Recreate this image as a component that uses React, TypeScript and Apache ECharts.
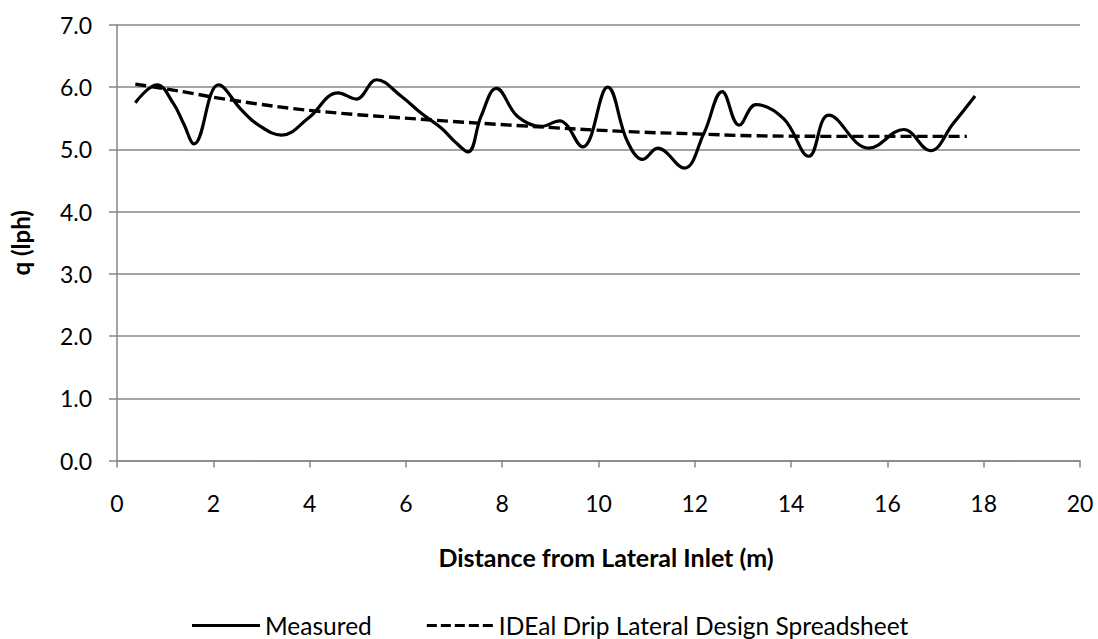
import React, { useEffect, useRef } from "react";
import * as echarts from "echarts";

const measuredX = [0.38, 0.83, 1.17, 1.38, 1.6, 2.11, 2.59, 2.94, 3.42, 3.97, 4.59, 4.97, 5.39, 5.91, 6.32, 6.74, 7.01, 7.29, 7.56, 7.88, 8.32, 8.81, 9.19, 9.67, 10.19, 10.6, 10.92, 11.23, 11.78, 12.19, 12.57, 12.92, 13.27, 13.85, 14.37, 14.78, 15.61, 16.34, 16.89, 17.37, 17.82];
const measuredY = [5.75, 6.04, 5.74, 5.42, 5.09, 6.04, 5.63, 5.39, 5.23, 5.5, 5.91, 5.81, 6.12, 5.85, 5.58, 5.34, 5.13, 4.96, 5.53, 5.98, 5.53, 5.37, 5.46, 5.04, 6.0, 5.13, 4.84, 5.02, 4.7, 5.26, 5.93, 5.39, 5.72, 5.49, 4.89, 5.55, 5.02, 5.32, 4.98, 5.42, 5.86];

const idealX = [0.38, 1.2, 2.4, 4.1, 6.6, 8.4, 10.5, 12.0, 13.2, 15.5, 17.65];
const idealY = [6.05, 5.95, 5.79, 5.62, 5.47, 5.38, 5.29, 5.25, 5.22, 5.21, 5.21];

const seriesNames = ["Measured", "IDEal Drip Lateral Design Spreadsheet"];
const xTitle = "Distance from Lateral Inlet (m)";
const yTitle = "q (lph)";

const FONT = "Lato";
const GRAY = "#868686";

const SOLID_ICON = "path://M0,0H68V3H0Z";
const DASH_ICON =
  "path://M0,0H10V3H0Z M14,0H24V3H14Z M28,0H38V3H28Z M42,0H52V3H42Z M56,0H66V3H56Z";

export default function App() {
  const ref = useRef<HTMLDivElement>(null);
  useEffect(() => {
    if (!ref.current) return;
    const chart = echarts.init(ref.current, undefined, { renderer: "svg" });
    chart.setOption({
      animation: false,
      backgroundColor: "#ffffff",
      textStyle: { fontFamily: FONT },
      grid: { left: 115, right: 18, top: 25, bottom: 178.5 },
      legend: {
        left: 192,
        top: 613,
        padding: 0,
        itemWidth: 68,
        itemHeight: 3,
        itemGap: 55,
        textStyle: { fontFamily: FONT, fontSize: 24.5, color: "#000" },
        data: [
          { name: seriesNames[0], icon: SOLID_ICON },
          { name: seriesNames[1], icon: DASH_ICON },
        ],
      },
      xAxis: {
        type: "value",
        min: 0,
        max: 20,
        interval: 2,
        name: xTitle,
        nameLocation: "middle",
        nameGap: 84,
        nameTextStyle: {
          fontFamily: FONT,
          fontSize: 25,
          fontWeight: "bold",
          color: "#000",
          padding: [0, 0, 0, 15],
        },
        axisLine: { show: true, lineStyle: { color: GRAY, width: 1.5 } },
        axisTick: { show: true, length: 7, lineStyle: { color: GRAY, width: 1.5 } },
        axisLabel: { margin: 31, fontFamily: FONT, fontSize: 23, color: "#000" },
        splitLine: { show: false },
      },
      yAxis: {
        type: "value",
        min: 0,
        max: 7,
        interval: 1,
        name: yTitle,
        nameLocation: "middle",
        nameGap: 85,
        nameTextStyle: { fontFamily: FONT, fontSize: 24, fontWeight: "bold", color: "#000" },
        axisLine: { show: true, lineStyle: { color: GRAY, width: 1.5 } },
        axisTick: { show: true, length: 8, lineStyle: { color: GRAY, width: 1.5 } },
        axisLabel: {
          margin: 25,
          fontFamily: FONT,
          fontSize: 23,
          color: "#000",
          formatter: (v: number) => v.toFixed(1),
        },
        splitLine: { show: true, lineStyle: { color: GRAY, width: 1.5 } },
      },
      series: [
        {
          name: seriesNames[0],
          type: "line",
          smooth: 0.4,
          symbol: "none",
          lineStyle: { color: "#000", width: 3.2 },
          itemStyle: { color: "#000" },
          data: measuredX.map((x, i) => [x, measuredY[i]]),
        },
        {
          name: seriesNames[1],
          type: "line",
          smooth: 0.4,
          symbol: "none",
          lineStyle: { color: "#000", width: 3.4, type: [11, 5] },
          itemStyle: { color: "#000" },
          data: idealX.map((x, i) => [x, idealY[i]]),
        },
      ],
    });
    return () => chart.dispose();
  }, []);
  return (
    <div
      ref={ref}
      style={{ position: "fixed", left: 0, top: 0, width: 1098, height: 639, background: "#fff" }}
    />
  );
}
